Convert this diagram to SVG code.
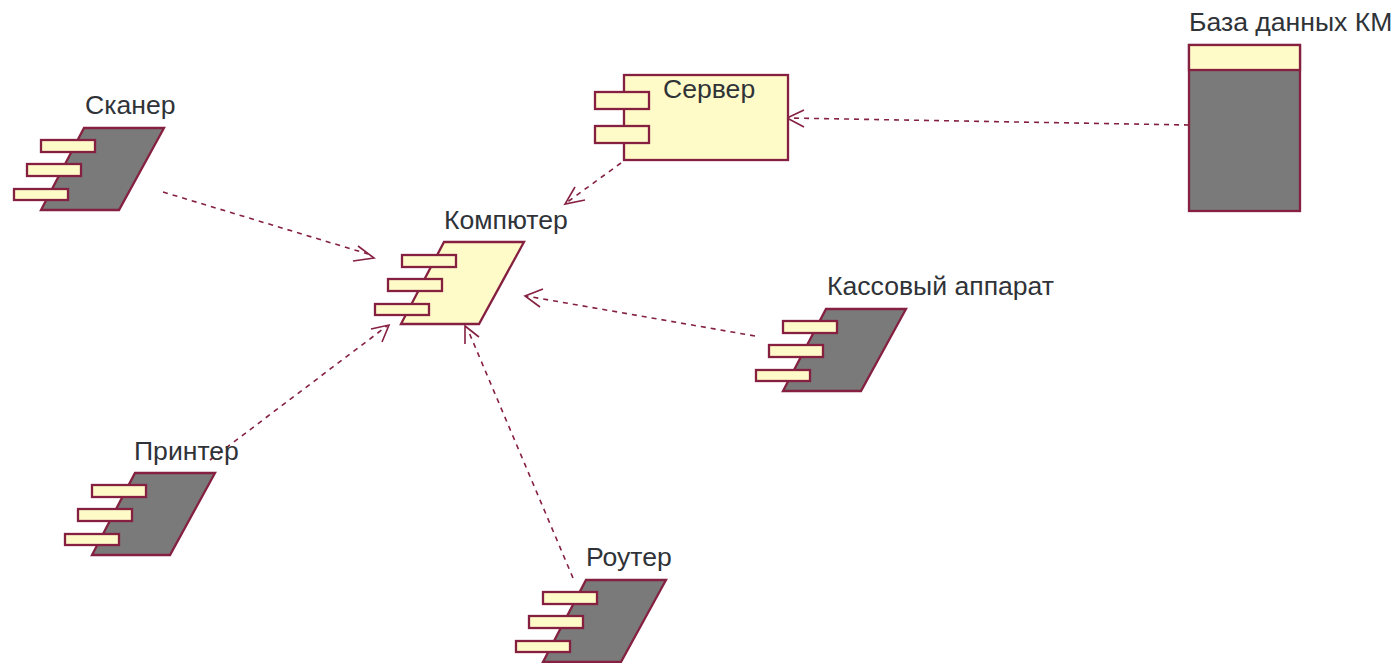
<svg xmlns="http://www.w3.org/2000/svg" width="1395" height="663" viewBox="0 0 1395 663">
<style>
.y{fill:#fffbc8;stroke:#852040;stroke-width:2.3}
.g{fill:#7a7a7a;stroke:#852040;stroke-width:2.3}
.t{font-family:"Liberation Sans",Arial,sans-serif;font-size:26.6px;fill:#2f3338}
.c{fill:none;stroke:#852040;stroke-width:1.6;stroke-dasharray:5 5}
.a{fill:none;stroke:#852040;stroke-width:1.6}
</style>
<defs>
<g id="pins">
<rect class="y" x="27" y="12" width="54" height="12"/>
<rect class="y" x="13" y="36" width="54" height="12"/>
<rect class="y" x="0" y="61" width="54" height="11"/>
</g>
<polygon id="para" points="44,0 124,0 79,82 1,82"/>
</defs>
<rect width="1395" height="663" fill="#fff"/>
<g id="connectors">
<path class="c" d="M163,192 L368,254"/><path class="a" d="M358,246 L374,258 L353,261"/>
<path class="c" d="M210,460 L387,326"/><path class="a" d="M371,329 L389,325 L382,342"/>
<path class="c" d="M573,578 L468,330"/><path class="a" d="M465,344 L465,326 L479,337"/>
<path class="c" d="M755,336 L526,296"/><path class="a" d="M543,289 L525,296 L540,307"/>
<path class="c" d="M621,163 L566,203"/><path class="a" d="M575,187 L565,204 L585,200"/>
<path class="c" d="M1189,125 L788,118"/><path class="a" d="M804,110 L787,118 L804,127"/>
</g>
<g id="scanner">
<use href="#para" x="40" y="128" class="g"/>
<use href="#pins" x="14" y="128"/>
<text class="t" x="85" y="114">Сканер</text>
</g>
<g id="server">
<rect class="y" x="624" y="75" width="164" height="85"/>
<rect class="y" x="595" y="92" width="54" height="17"/>
<rect class="y" x="595" y="126" width="54" height="17"/>
<text class="t" x="663" y="98">Сервер</text>
</g>
<g id="database">
<rect class="g" x="1189" y="45" width="111" height="166"/>
<rect class="y" x="1189" y="45" width="111" height="25"/>
<text class="t" x="1189" y="31">База данных КМ</text>
</g>
<g id="computer">
<use href="#para" x="400" y="242" class="y"/>
<use href="#pins" x="375" y="243"/>
<text class="t" x="444" y="229">Компютер</text>
</g>
<g id="cash">
<use href="#para" x="782" y="309" class="g"/>
<use href="#pins" x="756" y="309"/>
<text class="t" x="827" y="295">Кассовый аппарат</text>
</g>
<g id="printer">
<use href="#para" x="91" y="473" class="g"/>
<use href="#pins" x="65" y="473"/>
<text class="t" x="134" y="460">Принтер</text>
</g>
<g id="router">
<use href="#para" x="542" y="580" class="g"/>
<use href="#pins" x="516" y="580"/>
<text class="t" x="586" y="566">Роутер</text>
</g>
</svg>
